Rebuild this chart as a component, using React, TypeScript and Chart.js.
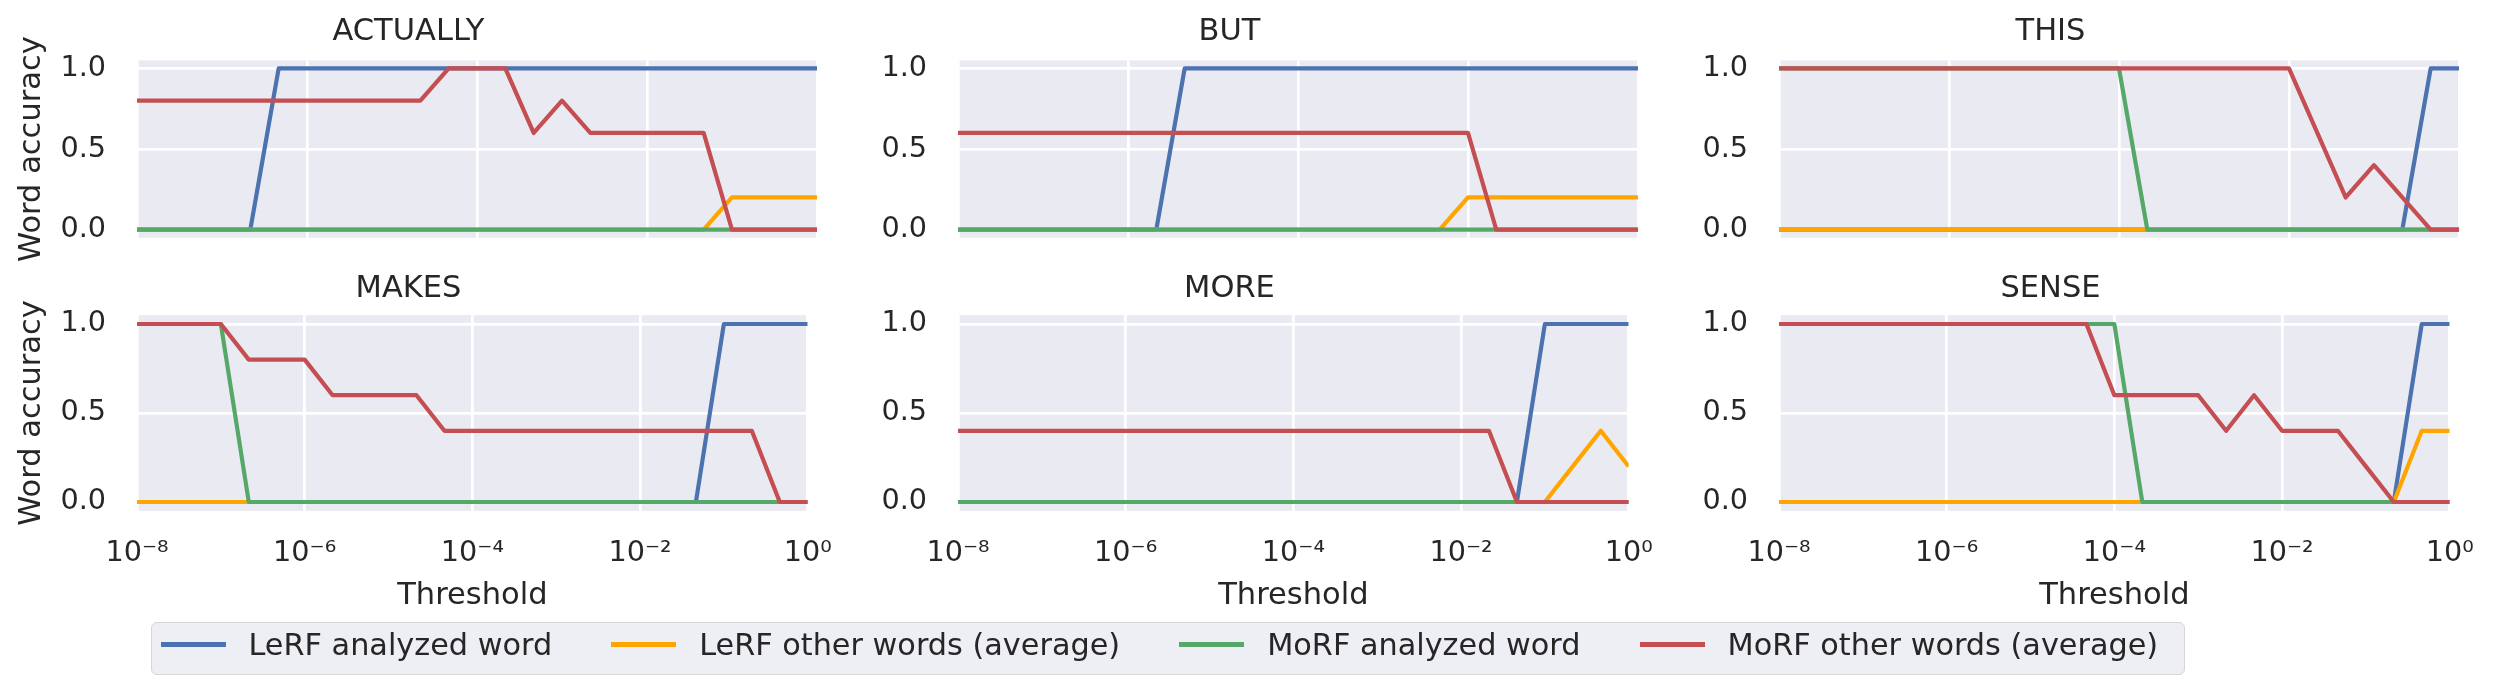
import React, { useEffect, useRef } from 'react';
import { Chart, registerables } from 'chart.js';

Chart.register(...registerables);

// ---------- data ----------
const THRESHOLDS = [
  1e-8, 2.154e-8, 4.642e-8, 1e-7, 2.154e-7, 4.642e-7, 1e-6, 2.154e-6, 4.642e-6,
  1e-5, 2.154e-5, 4.642e-5, 1e-4, 2.154e-4, 4.642e-4, 1e-3, 2.154e-3, 4.642e-3,
  1e-2, 2.154e-2, 4.642e-2, 1e-1, 2.154e-1, 4.642e-1, 1,
];
const X_TICKS = [1e-8, 1e-6, 1e-4, 1e-2, 1];
const X_TICK_LABELS = ['10⁻⁸', '10⁻⁶', '10⁻⁴', '10⁻²', '10⁰'];
const Y_TICKS = [0, 0.5, 1];
const Y_TICK_LABELS = ['0.0', '0.5', '1.0'];

const SERIES_NAMES = [
  'LeRF analyzed word',
  'LeRF other words (average)',
  'MoRF analyzed word',
  'MoRF other words (average)',
];
const SERIES_COLORS = ['#4C72B0', '#FFA500', '#55A868', '#C44E52'];

const ACTUALLY_LERF_WORD = [0, 0, 0, 0, 0, 1, 1, 1, 1, 1, 1, 1, 1, 1, 1, 1, 1, 1, 1, 1, 1, 1, 1, 1, 1];
const ACTUALLY_LERF_OTHER = [0, 0, 0, 0, 0, 0, 0, 0, 0, 0, 0, 0, 0, 0, 0, 0, 0, 0, 0, 0, 0, 0.2, 0.2, 0.2, 0.2];
const ACTUALLY_MORF_WORD = [0, 0, 0, 0, 0, 0, 0, 0, 0, 0, 0, 0, 0, 0, 0, 0, 0, 0, 0, 0, 0, 0, 0, 0, 0];
const ACTUALLY_MORF_OTHER = [0.8, 0.8, 0.8, 0.8, 0.8, 0.8, 0.8, 0.8, 0.8, 0.8, 0.8, 1, 1, 1, 0.6, 0.8, 0.6, 0.6, 0.6, 0.6, 0.6, 0, 0, 0, 0];

const BUT_LERF_WORD = [0, 0, 0, 0, 0, 0, 0, 0, 1, 1, 1, 1, 1, 1, 1, 1, 1, 1, 1, 1, 1, 1, 1, 1, 1];
const BUT_LERF_OTHER = [0, 0, 0, 0, 0, 0, 0, 0, 0, 0, 0, 0, 0, 0, 0, 0, 0, 0, 0.2, 0.2, 0.2, 0.2, 0.2, 0.2, 0.2];
const BUT_MORF_WORD = [0, 0, 0, 0, 0, 0, 0, 0, 0, 0, 0, 0, 0, 0, 0, 0, 0, 0, 0, 0, 0, 0, 0, 0, 0];
const BUT_MORF_OTHER = [0.6, 0.6, 0.6, 0.6, 0.6, 0.6, 0.6, 0.6, 0.6, 0.6, 0.6, 0.6, 0.6, 0.6, 0.6, 0.6, 0.6, 0.6, 0.6, 0, 0, 0, 0, 0, 0];

const THIS_LERF_WORD = [0, 0, 0, 0, 0, 0, 0, 0, 0, 0, 0, 0, 0, 0, 0, 0, 0, 0, 0, 0, 0, 0, 0, 1, 1];
const THIS_LERF_OTHER = [0, 0, 0, 0, 0, 0, 0, 0, 0, 0, 0, 0, 0, 0, 0, 0, 0, 0, 0, 0, 0, 0, 0, 0, 0];
const THIS_MORF_WORD = [1, 1, 1, 1, 1, 1, 1, 1, 1, 1, 1, 1, 1, 0, 0, 0, 0, 0, 0, 0, 0, 0, 0, 0, 0];
const THIS_MORF_OTHER = [1, 1, 1, 1, 1, 1, 1, 1, 1, 1, 1, 1, 1, 1, 1, 1, 1, 1, 1, 0.6, 0.2, 0.4, 0.2, 0, 0];

const MAKES_LERF_WORD = [0, 0, 0, 0, 0, 0, 0, 0, 0, 0, 0, 0, 0, 0, 0, 0, 0, 0, 0, 0, 0, 1, 1, 1, 1];
const MAKES_LERF_OTHER = [0, 0, 0, 0, 0, 0, 0, 0, 0, 0, 0, 0, 0, 0, 0, 0, 0, 0, 0, 0, 0, 0, 0, 0, 0];
const MAKES_MORF_WORD = [1, 1, 1, 1, 0, 0, 0, 0, 0, 0, 0, 0, 0, 0, 0, 0, 0, 0, 0, 0, 0, 0, 0, 0, 0];
const MAKES_MORF_OTHER = [1, 1, 1, 1, 0.8, 0.8, 0.8, 0.6, 0.6, 0.6, 0.6, 0.4, 0.4, 0.4, 0.4, 0.4, 0.4, 0.4, 0.4, 0.4, 0.4, 0.4, 0.4, 0, 0];

const MORE_LERF_WORD = [0, 0, 0, 0, 0, 0, 0, 0, 0, 0, 0, 0, 0, 0, 0, 0, 0, 0, 0, 0, 0, 1, 1, 1, 1];
const MORE_LERF_OTHER = [0, 0, 0, 0, 0, 0, 0, 0, 0, 0, 0, 0, 0, 0, 0, 0, 0, 0, 0, 0, 0, 0, 0.2, 0.4, 0.2];
const MORE_MORF_WORD = [0, 0, 0, 0, 0, 0, 0, 0, 0, 0, 0, 0, 0, 0, 0, 0, 0, 0, 0, 0, 0, 0, 0, 0, 0];
const MORE_MORF_OTHER = [0.4, 0.4, 0.4, 0.4, 0.4, 0.4, 0.4, 0.4, 0.4, 0.4, 0.4, 0.4, 0.4, 0.4, 0.4, 0.4, 0.4, 0.4, 0.4, 0.4, 0, 0, 0, 0, 0];

const SENSE_LERF_WORD = [0, 0, 0, 0, 0, 0, 0, 0, 0, 0, 0, 0, 0, 0, 0, 0, 0, 0, 0, 0, 0, 0, 0, 1, 1];
const SENSE_LERF_OTHER = [0, 0, 0, 0, 0, 0, 0, 0, 0, 0, 0, 0, 0, 0, 0, 0, 0, 0, 0, 0, 0, 0, 0, 0.4, 0.4];
const SENSE_MORF_WORD = [1, 1, 1, 1, 1, 1, 1, 1, 1, 1, 1, 1, 1, 0, 0, 0, 0, 0, 0, 0, 0, 0, 0, 0, 0];
const SENSE_MORF_OTHER = [1, 1, 1, 1, 1, 1, 1, 1, 1, 1, 1, 1, 0.6, 0.6, 0.6, 0.6, 0.4, 0.6, 0.4, 0.4, 0.4, 0.2, 0, 0, 0];

const PANELS = [
  { title: 'ACTUALLY', series: [ACTUALLY_LERF_WORD, ACTUALLY_LERF_OTHER, ACTUALLY_MORF_WORD, ACTUALLY_MORF_OTHER] },
  { title: 'BUT', series: [BUT_LERF_WORD, BUT_LERF_OTHER, BUT_MORF_WORD, BUT_MORF_OTHER] },
  { title: 'THIS', series: [THIS_LERF_WORD, THIS_LERF_OTHER, THIS_MORF_WORD, THIS_MORF_OTHER] },
  { title: 'MAKES', series: [MAKES_LERF_WORD, MAKES_LERF_OTHER, MAKES_MORF_WORD, MAKES_MORF_OTHER] },
  { title: 'MORE', series: [MORE_LERF_WORD, MORE_LERF_OTHER, MORE_MORF_WORD, MORE_MORF_OTHER] },
  { title: 'SENSE', series: [SENSE_LERF_WORD, SENSE_LERF_OTHER, SENSE_MORF_WORD, SENSE_MORF_OTHER] },
];

// ---------- layout / style ----------
const FONT = 'DejaVu Sans';
const TEXT = '#262626';
const AX_BG = '#EAEAF2';
const PLOT_LEFT = [137, 958, 1779];
const PLOT_W = 680;
const Y_AXIS_W = 137;
const RIGHT_PAD = 40;
const CANVAS_W = Y_AXIS_W + PLOT_W + RIGHT_PAD;
const ROWS = [
  { canvasTop: 0, canvasH: 286, plotTop: 60.4, plotBottom: 256.2, titleCenter: 32.5 },
  { canvasTop: 260, canvasH: 362, plotTop: 315.1, plotBottom: 510.9, titleCenter: 289.2 },
];
const TITLE_SIZE = 30.5;
const TICK_SIZE = 28.7;
const LABEL_SIZE = 30.5;

const bgPlugin = {
  id: 'axesBg',
  beforeDraw(chart: any) {
    const { ctx, chartArea: a } = chart;
    ctx.save();
    ctx.fillStyle = AX_BG;
    ctx.fillRect(a.left, a.top, a.right - a.left, a.bottom - a.top);
    ctx.restore();
  },
};

function Panel({ index }: { index: number }) {
  const ref = useRef<HTMLCanvasElement>(null);
  const row = Math.floor(index / 3);
  const col = index % 3;
  const R = ROWS[row];
  const isBottom = row === 1;
  const isLeft = col === 0;

  useEffect(() => {
    const panel = PANELS[index];
    const titleLH = TITLE_SIZE * 1.2;
    const relTitleCenter = R.titleCenter - R.canvasTop;
    const relPlotTop = R.plotTop - R.canvasTop;
    const titlePadTop = relTitleCenter - titleLH / 2;
    const titlePadBottom = relPlotTop - titlePadTop - titleLH;
    const xH = R.canvasTop + R.canvasH - R.plotBottom;
    const labelLH = LABEL_SIZE * 1.2;
    const xTitleCenterRel = 596 - R.canvasTop;
    const xTitlePadBottom = R.canvasH - xTitleCenterRel - labelLH / 2;

    const grid = { color: '#ffffff', lineWidth: 2.7, drawTicks: false };
    const chart = new Chart(ref.current as HTMLCanvasElement, {
      type: 'line',
      data: {
        datasets: panel.series.map((vals, si) => ({
          label: SERIES_NAMES[si],
          data: vals.map((y, i) => ({ x: THRESHOLDS[i], y })),
          borderColor: SERIES_COLORS[si],
          backgroundColor: SERIES_COLORS[si],
          borderWidth: 4.2,
          pointRadius: 0,
          pointHoverRadius: 0,
          tension: 0,
          fill: false,
          borderJoinStyle: 'round',
          borderCapStyle: 'butt',
          order: 3 - si,
          clip: 0,
        })),
      },
      options: {
        animation: false,
        responsive: false,
        devicePixelRatio: 1,
        events: [],
        layout: { padding: { left: 0, right: RIGHT_PAD, top: 0, bottom: 0 } },
        plugins: {
          legend: { display: false },
          tooltip: { enabled: false },
          title: {
            display: true,
            text: panel.title,
            color: TEXT,
            font: { family: FONT, size: TITLE_SIZE, weight: 'normal', lineHeight: 1.2 },
            padding: { top: titlePadTop, bottom: titlePadBottom },
          },
        },
        scales: {
          x: {
            type: 'logarithmic',
            min: 1e-8,
            max: 1,
            afterBuildTicks: (s: any) => {
              s.ticks = X_TICKS.map((v) => ({ value: v }));
            },
            afterFit: (s: any) => {
              s.height = xH;
            },
            ticks: {
              display: isBottom,
              autoSkip: false,
              maxRotation: 0,
              minRotation: 0,
              padding: 25.3,
              color: TEXT,
              font: { family: FONT, size: TICK_SIZE },
              callback: (_v: any, i: number) => X_TICK_LABELS[i],
            },
            grid,
            border: { display: false },
            title: {
              display: isBottom,
              text: 'Threshold',
              color: TEXT,
              font: { family: FONT, size: LABEL_SIZE, lineHeight: 1.2 },
              padding: { top: 0, bottom: xTitlePadBottom },
            },
          },
          y: {
            type: 'linear',
            min: -0.05,
            max: 1.05,
            afterBuildTicks: (s: any) => {
              s.ticks = Y_TICKS.map((v) => ({ value: v }));
            },
            afterFit: (s: any) => {
              s.width = Y_AXIS_W;
            },
            ticks: {
              padding: 31,
              color: TEXT,
              font: { family: FONT, size: TICK_SIZE },
              callback: (_v: any, i: number) => Y_TICK_LABELS[i],
            },
            grid,
            border: { display: false },
            title: {
              display: isLeft,
              text: 'Word accuracy',
              color: TEXT,
              font: { family: FONT, size: LABEL_SIZE, lineHeight: 1.2 },
              padding: { top: 32 - labelLH / 2, bottom: 0 },
            },
          },
        },
      } as any,
      plugins: [bgPlugin],
    });
    return () => chart.destroy();
  }, []);

  return (
    <canvas
      ref={ref}
      width={CANVAS_W}
      height={R.canvasH}
      style={{
        position: 'absolute',
        left: PLOT_LEFT[col] - Y_AXIS_W,
        top: R.canvasTop,
        width: CANVAS_W,
        height: R.canvasH,
      }}
    />
  );
}

function Legend() {
  return (
    <div
      style={{
        position: 'absolute',
        left: 151,
        top: 621.5,
        width: 2033.5,
        height: 53,
        boxSizing: 'border-box',
        background: 'rgba(234,234,242,0.8)',
        border: '1.5px solid #d6d6d6',
        borderRadius: 6,
        display: 'flex',
        alignItems: 'center',
        paddingLeft: 8.5,
        paddingBottom: 7,
        fontFamily: FONT,
      }}
    >
      {SERIES_NAMES.map((name, i) => (
        <div key={name} style={{ display: 'flex', alignItems: 'center', marginRight: i < 3 ? 59 : 0 }}>
          <div style={{ width: 65, height: 4.2, background: SERIES_COLORS[i], marginRight: 23 }} />
          <span style={{ fontSize: 30.3, color: TEXT, whiteSpace: 'nowrap', lineHeight: 'normal' }}>{name}</span>
        </div>
      ))}
    </div>
  );
}

export default function App() {
  return (
    <div
      style={{
        position: 'fixed',
        left: 0,
        top: 0,
        width: 2506,
        height: 694,
        background: '#ffffff',
        overflow: 'hidden',
      }}
    >
      {[1, 0, 2, 4, 3, 5].map((i) => (
        <Panel key={i} index={i} />
      ))}
      <Legend />
    </div>
  );
}
